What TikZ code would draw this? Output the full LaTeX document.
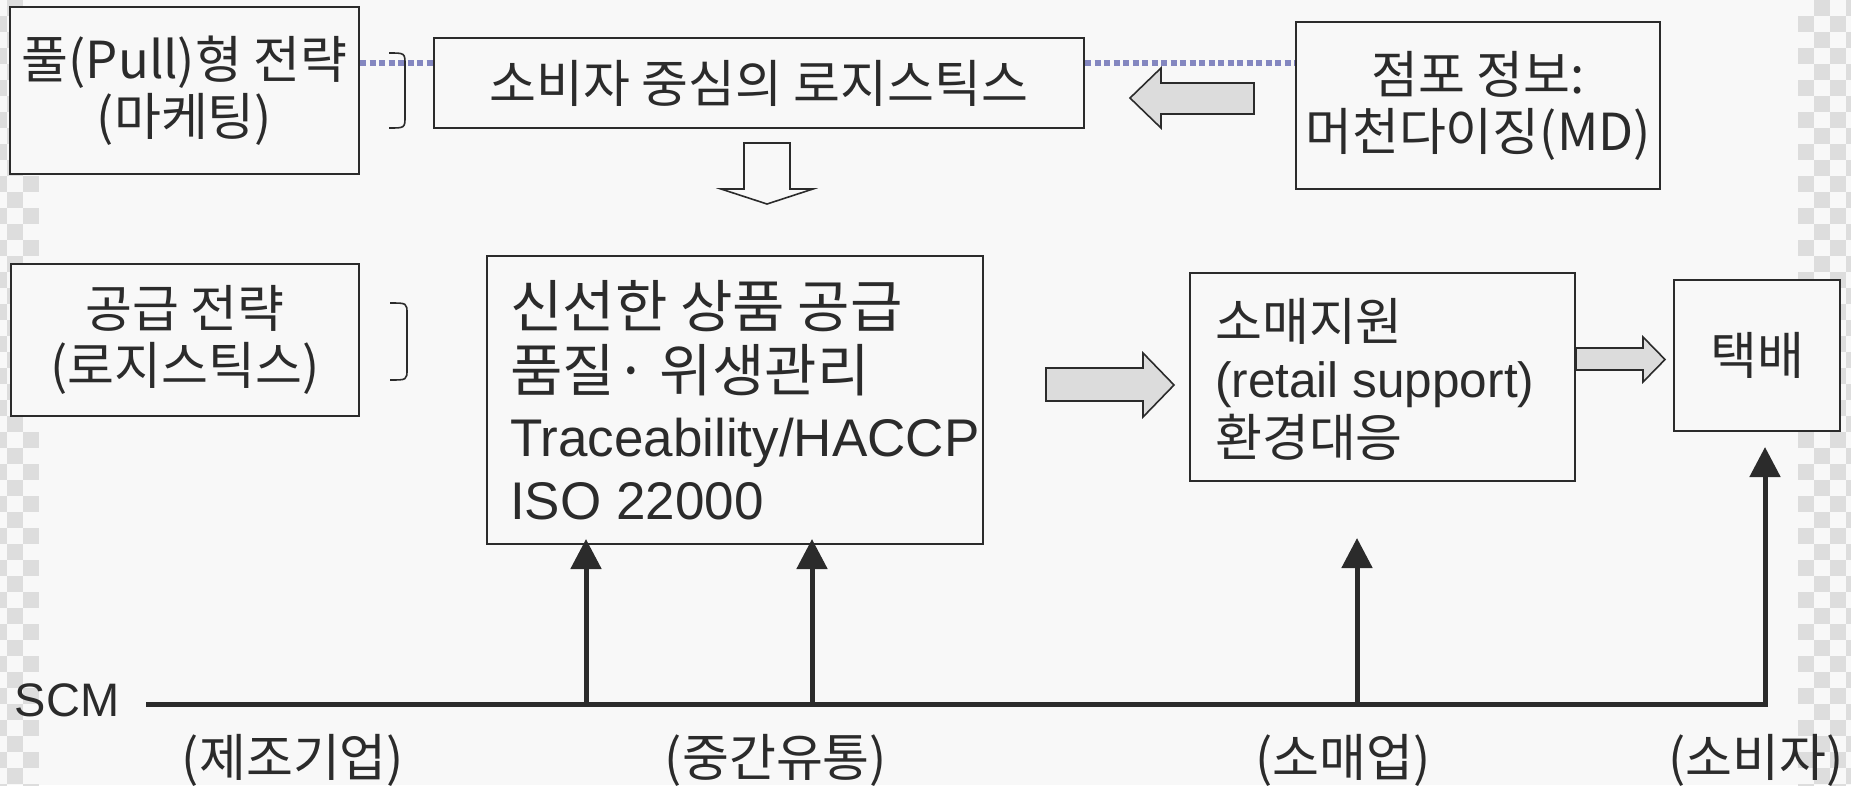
\documentclass[tikz,border=0pt]{standalone}
\usepackage{fontspec}
\setmainfont{Noto Sans CJK KR}
\newfontfamily\lat{Liberation Sans}
\usetikzlibrary{arrows.meta}
\definecolor{bgc}{HTML}{F8F8F8}
\definecolor{ink}{HTML}{2B2B2B}
\definecolor{chk}{HTML}{DDDDDD}
\definecolor{dotc}{HTML}{8487C0}
\definecolor{arrf}{HTML}{DCDCDC}
\newcommand\fs[1]{\fontsize{#1pt}{57pt}\selectfont}
\begin{document}
\begin{tikzpicture}[x=1pt,y=-1pt,
  box/.style={draw=ink, line width=2pt, fill=bgc, inner sep=0pt, align=center, text=ink, font=\fs{51}},
  txt/.style={inner sep=0pt, text=ink},
  dotline/.style={draw=dotc, line width=5.5pt, dash pattern=on 6pt off 3.5pt},
  brk/.style={draw=ink, line width=1.6pt},
  blk/.style={draw=ink, line width=1.6pt, fill=arrf, line join=miter},
  scmline/.style={draw=ink, line width=5pt},
  uparr/.style={scmline, -{Triangle[width=30pt,length=30pt]}},
]
% background
\fill[bgc] (0,0) rectangle (1851,785);
\useasboundingbox (0,0) rectangle (1851,785);
\begin{scope}
\clip (0,0) rectangle (1851,785);
\foreach \r in {0,...,49}{
  \foreach \c in {0,1,2}{
    \pgfmathtruncatemacro\chkodd{mod(\r+\c,2)}
    \ifnum\chkodd=1 \fill[chk] (-9+16*\c,16*\r) rectangle ++(16,16); \fi
  }
  \foreach \c in {0,1,2,3}{
    \pgfmathtruncatemacro\chkodd{mod(\r+\c,2)}
    \ifnum\chkodd=1 \fill[chk] (1798+16*\c,16*\r) rectangle ++(16,16); \fi
  }
}
\end{scope}

% boxes
\node[box, minimum width=349, minimum height=167] (A) at (184.5,90.5) {풀(Pull)형 전략\\(마케팅)};
\node[box, minimum width=650, minimum height=90] (B) at (759,83) {소비자 중심의 로지스틱스};
\node[box, minimum width=364, minimum height=167] (C) at (1478,105.5) {점포 정보:\\머천다이징(MD)};
\node[box, minimum width=348, minimum height=152] (D) at (185,340) {공급 전략\\(로지스틱스)};
\node[box, minimum width=496, minimum height=288] (E) at (734.5,400) {};
\node[box, minimum width=385, minimum height=208] (F) at (1382.5,376.5) {};
\node[box, minimum width=166, minimum height=151] (G) at (1757,355.5) {택배};

% box E text
\node[txt, anchor=base west, font=\fs{57}] (E1) at (510,327) {신선한 상품 공급};
\node[txt, anchor=base west, font=\fs{57}] (E2) at (510,391) {품질· 위생관리};
\node[txt, anchor=base west, font={\lat\fs{53}}] (E3) at (510,456) {Traceability/HACCP};
\node[txt, anchor=base west, font={\lat\fs{53}}] (E4) at (510,519) {ISO 22000};

% box F text
\node[txt, anchor=base west, font=\fs{51}] (F1) at (1215,340) {소매지원};
\node[txt, anchor=base west, font={\lat\fs{49.5}}] (F2) at (1215,397) {(retail support)};
\node[txt, anchor=base west, font=\fs{51}] (F3) at (1215,456) {환경대응};

% dotted links
\coordinate (dy) at (0,63);
\draw[dotline] (A.east |- dy) -- (B.west |- dy);
\draw[dotline] (B.east |- dy) -- (C.west |- dy);

% brackets
\draw[brk] (389,53) .. controls (405,53) and (405,53) .. (405,65) -- (405,116) .. controls (405,128) and (405,128) .. (389,128);
\draw[brk] (390,303) .. controls (407,303) and (407,303) .. (407,314) -- (407,369) .. controls (407,380) and (407,380) .. (390,380);

% block arrows
\draw[blk] (1254,83) -- (1161,83) -- (1161,68) -- (1130,98) -- (1161,128) -- (1161,114) -- (1254,114) -- cycle;
\draw[blk, fill=bgc] (744,143) -- (790,143) -- (790,189) -- (813,189) -- (767,204) -- (721,189) -- (744,189) -- cycle;
\draw[blk] (1046,368) -- (1143,368) -- (1143,353) -- (1174,385) -- (1143,417) -- (1143,401) -- (1046,401) -- cycle;
\draw[blk] (F.east |- 0,348) -- (1643,348) -- (1643,337) -- (1665,359.5) -- (1643,382) -- (1643,370) -- (F.east |- 0,370) -- cycle;

% SCM line and labels
\node[txt, font={\lat\fs{47}}] (scm) at (67,700) {SCM};
\coordinate (p0) at (146,704);
\coordinate (p1) at (586,704);
\coordinate (p2) at (812,704);
\coordinate (p3) at (1357,704);
\coordinate (p4) at (1765,704);
\coordinate (t3) at (1357,538);
\coordinate (t4) at (1765,447);
\draw[uparr] (p0) -- (p4) -- (t4);
\draw[uparr, shorten >=-6pt] (p1) -- (p1 |- E.south);
\draw[uparr, shorten >=-6pt] (p2) -- (p2 |- E.south);
\draw[uparr] (p3) -- (t3);

\node[txt, font=\fs{51}] (L1) at (293,760) {(제조기업)};
\node[txt, font=\fs{51}] (L2) at (776,760) {(중간유통)};
\node[txt, font=\fs{51}] (L3) at (1343,760) {(소매업)};
\node[txt, font=\fs{51}] (L4) at (1756,760) {(소비자)};
\end{tikzpicture}
\end{document}
